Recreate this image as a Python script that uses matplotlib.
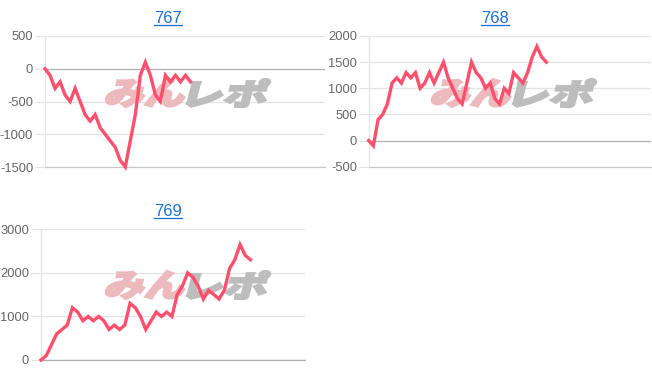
import matplotlib
matplotlib.use("Agg")
import matplotlib.pyplot as plt
from matplotlib.textpath import TextPath
from matplotlib.font_manager import FontProperties
from matplotlib.patches import PathPatch
from matplotlib.transforms import Affine2D
from matplotlib.lines import Line2D

# ---- data ----
titles = ["767", "768", "769"]
series_767 = [0, -100, -300, -200, -400, -500, -300, -500, -700, -800, -700, -900,
              -1000, -1100, -1200, -1400, -1500, -1100, -700, -100, 100, -100, -400,
              -500, -100, -200, -100, -200, -100, -200]
series_768 = [0, -100, 400, 500, 700, 1100, 1200, 1100, 1300, 1200, 1300, 1000, 1100,
              1300, 1100, 1300, 1500, 1200, 1000, 800, 700, 1100, 1500, 1300, 1200,
              1000, 1100, 800, 700, 1000, 900, 1300, 1200, 1100, 1300, 1600, 1800,
              1600, 1500]
series_769 = [0, 100, 350, 600, 700, 800, 1200, 1100, 900, 1000, 900, 1000, 900, 700,
              800, 700, 800, 1300, 1200, 1000, 700, 900, 1100, 1000, 1100, 1000, 1500,
              1700, 2000, 1900, 1700, 1400, 1600, 1500, 1400, 1600, 2100, 2300, 2650,
              2400, 2300]
yticks_767 = [-1500, -1000, -500, 0, 500]
yticks_768 = [-500, 0, 500, 1000, 1500, 2000]
yticks_769 = [0, 1000, 2000, 3000]

W, H = 652, 382
fig = plt.figure(figsize=(W / 100, H / 100), dpi=100)
fig.patch.set_facecolor("white")

LINE = "#ff4f6d"
TICK_GREY = "#666666"
GRID = "#e3e3e3"
ZERO = "#b0b0b0"
TITLE_BLUE = "#1a6fd4"
FONT = "Liberation Sans"

panels = [
    # (title, data, yticks, left, top, right, bottom, xmax, title_cx, title_base, panel_x, panel_y)
    (titles[0], series_767, yticks_767, 45, 36, 325, 167, 55.8, 168, 23, 0, 0),
    (titles[1], series_768, yticks_768, 368.7, 36, 651, 166.7, 60.4, 495, 23, 326, 0),
    (titles[2], series_769, yticks_769, 41, 229.3, 305, 360, 50.4, 168, 216, 0, 192),
]

fp_wm = FontProperties(family="Noto Sans CJK JP", weight="heavy")


def watermark(ax, text, x0, ytop, w, h, color):
    tp = TextPath((0, 0), text, size=1, prop=fp_wm)
    ext = tp.get_extents()
    sx = w / ext.width
    sy = h / ext.height
    tr = (Affine2D().translate(-ext.x0, -ext.y0).scale(sx, sy)
          .skew_deg(14, 0).translate(x0, H - (ytop + h))
          .scale(1 / W, 1 / H) + fig.transFigure)
    patch = PathPatch(tp, transform=tr, facecolor=color, edgecolor=color,
                      linewidth=1.6, zorder=1, clip_on=False)
    ax.add_patch(patch)


for (title, data, yt, l, t, r, b, xmax, tcx, tby, px, py) in panels:
    ax = fig.add_axes([l / W, 1 - b / H, (r - l) / W, (b - t) / H])
    ax.set_facecolor("none")
    ax.set_ylim(yt[0], yt[-1])
    ax.set_xlim(0, xmax)
    ax.set_yticks(yt)
    ax.set_yticklabels([str(v) for v in yt], fontsize=9.3, color=TICK_GREY, family=FONT)
    ax.set_xticks([])
    ax.tick_params(axis="y", length=7, width=0.8, color=GRID, pad=1.5)
    for v in yt:
        ax.axhline(v, color=ZERO if v == 0 else GRID, lw=0.9, zorder=0.5)
    for s in ["top", "right"]:
        ax.spines[s].set_visible(False)
    ax.spines["left"].set_color(GRID)
    ax.spines["left"].set_linewidth(0.9)
    ax.spines["bottom"].set_color(ZERO if yt[0] == 0 else "#c8c8c8")
    ax.spines["bottom"].set_linewidth(0.9)

    ax.plot(range(len(data)), data, color=LINE, lw=2.4, zorder=3, clip_on=False,
            solid_joinstyle="miter")

    # watermark
    watermark(ax, "みん", px + 104, py + 79, 78, 28, "#ecb9bd")
    watermark(ax, "レポ", px + 186, py + 79, 78, 28, "#bdbdbd")

    # title (underlined link style)
    txt = fig.text(tcx / W, 1 - tby / H, title, ha="center", va="baseline",
                   fontsize=12, color=TITLE_BLUE, family=FONT)
    fig.canvas.draw()
    bb = txt.get_window_extent()
    fig.add_artist(Line2D([bb.x0 / W, bb.x1 / W], [(H - tby - 1.8) / H] * 2,
                          transform=fig.transFigure, color=TITLE_BLUE, lw=0.9))

fig.savefig("out.png", dpi=100, facecolor="white")
